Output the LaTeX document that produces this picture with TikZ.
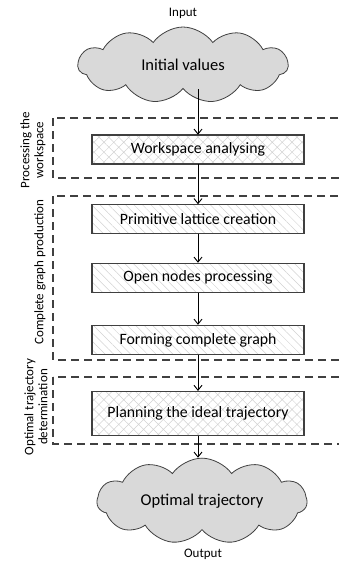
\documentclass[tikz,border=0pt]{standalone}
\usepackage{fontspec}
\setmainfont{Carlito}
\usetikzlibrary{arrows.meta,shapes.symbols,positioning,patterns.meta}
\definecolor{edgegrey}{HTML}{404040}
\definecolor{cloudgrey}{HTML}{D9D9D9}
\definecolor{hatchgrey}{HTML}{D2D2D2}
\tikzset{
stage/.style = {rectangle, draw=edgegrey, line width=1.1pt, minimum width=212pt, minimum height=29pt, inner sep=0pt, font=\fontsize{15.8}{17}\selectfont},% process box
stage_x/.style = {stage, pattern={Hatch[angle=45,distance=7pt,line width=0.5pt]}, pattern color=hatchgrey},% crosshatched box
stage_l/.style = {stage, pattern={Lines[angle=-45,distance=6pt,line width=0.5pt]}, pattern color=hatchgrey},% striped box
data/.style = {cloud, cloud puffs=11, cloud puff arc=110, aspect=2.76, draw=edgegrey, fill=cloudgrey, line width=0.8pt, minimum width=210pt, minimum height=76pt, inner sep=0pt, font=\fontsize{16.5}{18}\selectfont},% input / output
phase/.style = {draw=edgegrey, dash pattern=on 8pt off 5pt, line width=1.1pt},% dashed stage frame
phase_lbl/.style = {rotate=90, align=center, font=\fontsize{13}{14}\selectfont},
io_lbl/.style = {font=\fontsize{13}{14}\selectfont},
flow/.style = {-{Straight Barb[length=5pt,width=8pt]}, line width=0.9pt}
}
\begin{document}
\begin{tikzpicture}[x=1pt, y=-1pt]
  \useasboundingbox (0,0) rectangle (339,563);
  % dashed frames of the three stages
  \draw[phase] (53,118) rectangle (350,178);
  \draw[phase] (53,196) rectangle (350,360);
  \draw[phase] (53,377) rectangle (350,444);
  \node[phase_lbl] (lbl1) at (33,150) {Processing the\\workspace};
  \node[phase_lbl] (lbl2) at (40,272) {Complete graph production};
  \node[phase_lbl] (lbl3) at (36,407) {Optimal trajectory\\determination};

  \node[data] (init) at (183,65) {Initial values};
  \node[io_lbl] (in) at (183,13) {Input};
  \node[stage_x] (ws) at (198,149.5) {Workspace analysing};
  \node[stage_l, below=40pt of ws] (lattice) {Primitive lattice creation};
  \node[stage_l, below=29pt of lattice] (open) {Open nodes processing};
  \node[stage_l, below=32pt of open] (graph) {Forming complete graph};
  \node[stage_x, below=36pt of graph, minimum height=44pt] (plan) {Planning the ideal trajectory};
  \node[data] (result) at (202,501) {Optimal trajectory};
  \node[io_lbl] (out) at (203,554) {Output};

  \draw[flow] (ws.north |- init.south) -- (ws.north);
  \draw[flow] (ws) -- (lattice);
  \draw[flow] (lattice) -- (open);
  \draw[flow] (open) -- (graph);
  \draw[flow] (graph) -- (plan);
  \draw[flow] (plan.south) -- (plan.south |- result.north);
\end{tikzpicture}
\end{document}
